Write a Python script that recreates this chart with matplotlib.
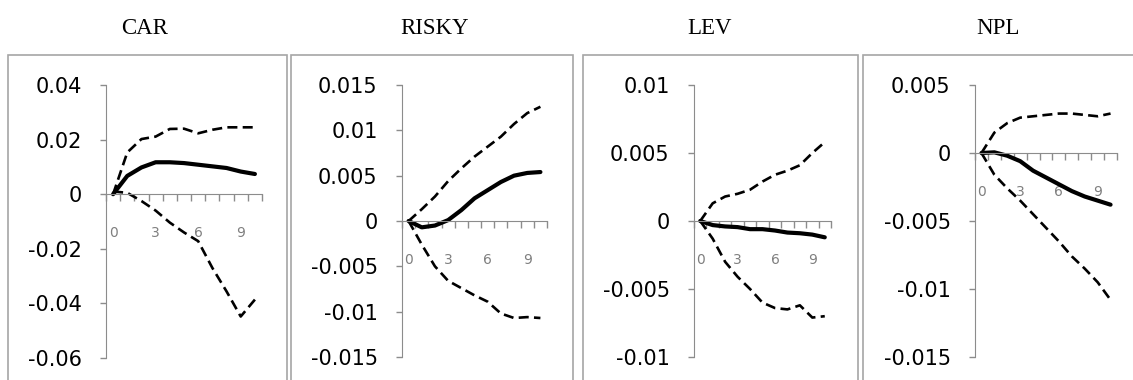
import matplotlib
matplotlib.use("Agg")
import matplotlib.pyplot as plt
from matplotlib.patches import Rectangle
from matplotlib.ticker import FixedLocator, FixedFormatter

# impulse responses, periods 0..10
periods = list(range(11))
titles = ["CAR", "RISKY", "LEV", "NPL"]

car_mid = [0, 0.0067, 0.0098, 0.0117, 0.0117, 0.0114, 0.0108, 0.0102, 0.0096, 0.0083, 0.0074]
car_up = [0, 0.0153, 0.0202, 0.0211, 0.0239, 0.024, 0.0223, 0.0236, 0.0245, 0.0245, 0.0245]
car_lo = [0.001, 0.0005, -0.0025, -0.006, -0.0104, -0.014, -0.0172, -0.027, -0.0356, -0.0448, -0.0386]

risky_mid = [0, -0.0007, -0.0005, 0.0001, 0.0012, 0.0025, 0.0034, 0.0043, 0.005, 0.0053, 0.0054]
risky_up = [0, 0.0013, 0.0027, 0.0044, 0.0058, 0.0071, 0.0082, 0.0093, 0.0107, 0.0119, 0.0126]
risky_lo = [0, -0.0026, -0.005, -0.0066, -0.0074, -0.0082, -0.0089, -0.0102, -0.0107, -0.0106, -0.0107]

lev_mid = [0, -0.0003, -0.0004, -0.00045, -0.0006, -0.0006, -0.0007, -0.00085, -0.0009, -0.001, -0.0012]
lev_up = [0, 0.0013, 0.0018, 0.002, 0.0023, 0.0029, 0.0034, 0.0037, 0.0041, 0.005, 0.0058]
lev_lo = [0, -0.0013, -0.003, -0.0041, -0.005, -0.006, -0.0064, -0.0065, -0.0062, -0.0071, -0.007]

npl_mid = [0, 0.00005, -0.0002, -0.0006, -0.0013, -0.0018, -0.0023, -0.0028, -0.0032, -0.0035, -0.0038]
npl_up = [0, 0.0015, 0.0022, 0.0026, 0.0027, 0.0028, 0.0029, 0.0029, 0.0028, 0.0027, 0.0029]
npl_lo = [0, -0.0016, -0.0026, -0.0035, -0.0045, -0.0055, -0.0065, -0.0076, -0.0085, -0.0095, -0.0108]

y_ticks = [
    [0.04, 0.02, 0, -0.02, -0.04, -0.06],
    [0.015, 0.01, 0.005, 0, -0.005, -0.01, -0.015],
    [0.01, 0.005, 0, -0.005, -0.01],
    [0.005, 0, -0.005, -0.01, -0.015],
]
x_labels = ["0", "3", "6", "9"]

series = [
    (car_mid, car_up, car_lo),
    (risky_mid, risky_up, risky_lo),
    (lev_mid, lev_up, lev_lo),
    (npl_mid, npl_up, npl_lo),
]

W, H = 1133, 380
fig = plt.figure(figsize=(W / 100, H / 100), dpi=100)

# layout in pixels: axes (left, right, top, bottom), box (left, right), title x
ax_px = [(106, 262, 85, 358), (402, 547, 85, 357), (694, 831, 85, 357), (975, 1117, 85, 357)]
box_px = [(8, 287), (291, 573), (583, 858), (863, 1145)]
title_x = [145, 435, 710, 998]

axis_grey = "#8c8c8c"

for k in range(4):
    l, r, t, b = ax_px[k]
    ax = fig.add_axes([l / W, 1 - b / H, (r - l) / W, (b - t) / H])
    mid, up, lo = series[k]
    ax.plot(periods, up, color="black", lw=1.9, ls=(0, (3.8, 2.0)), dash_capstyle="butt")
    ax.plot(periods, lo, color="black", lw=1.9, ls=(0, (3.8, 2.0)), dash_capstyle="butt")
    ax.plot(periods, mid, color="black", lw=3.0, solid_capstyle="round")

    yt = y_ticks[k]
    ax.set_ylim(min(yt), max(yt))
    ax.set_xlim(-0.5, 10.5)
    ax.yaxis.set_major_locator(FixedLocator(yt))
    ax.yaxis.set_major_formatter(FixedFormatter(["%g" % v for v in yt]))
    ax.tick_params(axis="y", direction="out", length=4.5, width=1, color=axis_grey,
                   labelsize=15, pad=13, labelcolor="black")

    # category axis crossing at zero, ticks between categories
    ax.spines["bottom"].set_position(("data", 0))
    ax.spines["bottom"].set_color(axis_grey)
    ax.spines["left"].set_color(axis_grey)
    ax.spines["top"].set_visible(False)
    ax.spines["right"].set_visible(False)
    ax.xaxis.set_major_locator(FixedLocator([i - 0.5 for i in range(12)]))
    ax.xaxis.set_major_formatter(FixedFormatter([""] * 12))
    ax.xaxis.set_minor_locator(FixedLocator([int(s) for s in x_labels]))
    ax.xaxis.set_minor_formatter(FixedFormatter(x_labels))
    ax.tick_params(axis="x", which="major", direction="out", length=5, width=1, color=axis_grey)
    ax.tick_params(axis="x", which="minor", length=0, pad=23, labelsize=10, labelcolor="#7f7f7f")
    ax.patch.set_alpha(0)

    bl, br = box_px[k]
    fig.patches.append(Rectangle((bl / W, -0.1), (br - bl) / W, 1.1 - 55 / H,
                                 transform=fig.transFigure, fill=False,
                                 edgecolor="#a6a6a6", lw=1.2))
    fig.text(title_x[k] / W, 1 - 28 / H, titles[k], ha="center", va="center",
             family="Liberation Serif", fontsize=16.5)

fig.savefig("out.png", dpi=100)
